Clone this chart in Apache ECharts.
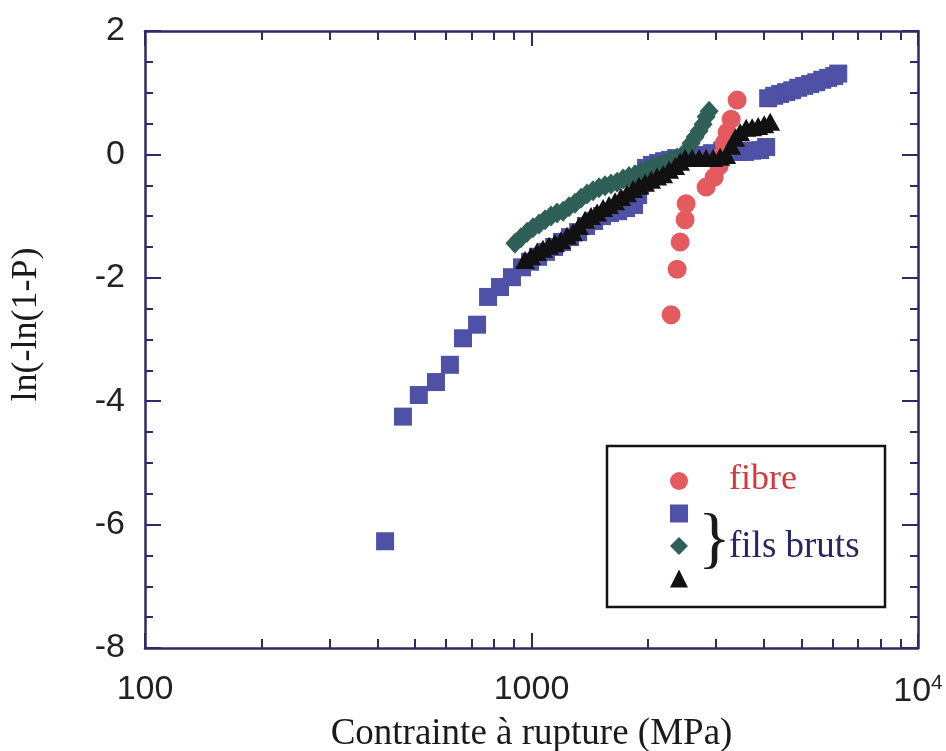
<!DOCTYPE html>
<html>
<head>
<meta charset="utf-8">
<script src="https://cdn.jsdelivr.net/npm/echarts@6/dist/echarts.min.js"></script>
<style>html,body{margin:0;padding:0;background:#fff}#c{width:946px;height:751px}</style>
</head>
<body>
<div id="c"></div>
<script>
// ---- data (x: Contrainte à rupture in MPa, y: ln(-ln(1-P))) ----
const fibreStress = [2297,2381,2424,2497,2512,2830,2969,3058,3114,3151,3208,3285,3405];
const fibreY      = [-2.60,-1.86,-1.42,-1.06,-0.80,-0.53,-0.37,-0.19,-0.01,0.18,0.36,0.57,0.88];

const brutsAStress = [418,465,511,566,615,665,723,772,829,890,945,991,1040,1090,1144,1199,1258,1320,1384,1452,1522,1597,1675,1757,1842,1887,1910,1932,1979,2051,2126,2203,2283,2367,2573,2731,2933,3114,3425,3571,3723,3905,4047,4096,4245,4400,4560,4726,4898,5077,5261,5453,5652,5858,6071,6218];
const brutsAY      = [-6.27,-4.25,-3.90,-3.69,-3.41,-2.98,-2.76,-2.31,-2.15,-1.99,-1.83,-1.74,-1.66,-1.58,-1.50,-1.42,-1.34,-1.26,-1.16,-1.08,-1.00,-0.95,-0.92,-0.87,-0.82,-0.66,-0.50,-0.33,-0.22,-0.17,-0.14,-0.11,-0.09,-0.06,-0.03,-0.01,0.02,0.06,0.04,0.04,0.06,0.07,0.12,0.91,0.95,0.98,1.01,1.04,1.08,1.11,1.14,1.17,1.21,1.24,1.27,1.31];

const brutsBStress = [906,939,974,1009,1046,1084,1123,1164,1207,1251,1296,1343,1392,1443,1495,1550,1606,1665,1726,1788,1854,1921,1991,2064,2139,2216,2297,2381,2467,2527,2588,2651,2715,2780,2830,2881];
const brutsBY      = [-1.44,-1.35,-1.26,-1.19,-1.13,-1.06,-1.00,-0.95,-0.92,-0.85,-0.79,-0.71,-0.64,-0.59,-0.54,-0.51,-0.48,-0.45,-0.40,-0.36,-0.33,-0.28,-0.24,-0.20,-0.17,-0.14,-0.09,-0.06,-0.01,0.07,0.18,0.28,0.38,0.49,0.61,0.70];

const brutsCStress = [962,997,1033,1071,1110,1150,1192,1236,1281,1327,1376,1426,1478,1532,1587,1645,1705,1767,1832,1898,1967,2039,2113,2190,2270,2353,2424,2497,2604,2715,2830,2951,3077,3189,3285,3365,3466,3593,3723,3859,4000,4145];
const brutsCY      = [-1.71,-1.65,-1.58,-1.53,-1.48,-1.44,-1.39,-1.32,-1.26,-1.16,-1.06,-1.00,-0.94,-0.87,-0.82,-0.76,-0.69,-0.63,-0.56,-0.51,-0.46,-0.41,-0.36,-0.32,-0.25,-0.19,-0.12,-0.06,-0.06,-0.06,-0.06,-0.06,-0.04,-0.01,0.14,0.27,0.36,0.43,0.44,0.46,0.49,0.53];

// ---- axes ----
const xMin = 100, xMax = 10000;
const xMajorTicks = [100, 1000, 10000];
const xMinorTicks = [200,300,400,500,600,700,800,900,2000,3000,4000,5000,6000,7000,8000,9000];
const yMin = -8, yMax = 2, yInterval = 2;

const xTitle = 'Contrainte à rupture (MPa)';
const yTitle = 'ln(-ln(1-P)';
const legendFibre = 'fibre';
const legendBruts = 'fils bruts';

const zip = (xs, ys) => xs.map((x, i) => [x, ys[i]]);

const frameColor = '#2e2a66';
const lineStyle = { color: frameColor, width: 2.5 };
const serif = "'Liberation Serif', 'DejaVu Serif', serif";
const sans = "'Liberation Sans', Arial, sans-serif";

function logAxis(position, ticks, len, showLine, showLabel) {
  return {
    type: 'log', logBase: 10, min: xMin, max: xMax, position: position,
    axisLine: { show: showLine, onZero: false, lineStyle: lineStyle },
    axisTick: { show: true, inside: true, length: len, customValues: ticks, lineStyle: { color: frameColor, width: 2 } },
    minorTick: { show: false },
    axisLabel: showLabel ? {
      show: true, customValues: xMajorTicks, margin: 25, fontSize: 34, fontFamily: sans, color: '#222',
      formatter: v => (v >= 10000 ? '10{sup|4}' : String(Math.round(v))),
      rich: { sup: { fontSize: 21, fontFamily: sans, color: '#222', verticalAlign: 'top', padding: [0, 0, 16, 0] } }
    } : { show: false },
    splitLine: { show: false }
  };
}

const chart = echarts.init(document.getElementById('c'));
const xAxes = [
  logAxis('bottom', xMajorTicks, 15, true, true),
  logAxis('bottom', xMinorTicks, 9, false, false),
  logAxis('top', xMajorTicks, 15, true, false),
  logAxis('top', xMinorTicks, 9, false, false)
];
xAxes[0].name = xTitle;
xAxes[0].nameLocation = 'middle';
xAxes[0].nameGap = 68;
xAxes[0].nameTextStyle = { fontFamily: serif, fontSize: 37, color: '#1a1a1a' };

function valAxis(position, showLabel) {
  return {
    type: 'value', min: yMin, max: yMax, interval: yInterval, position: position,
    axisLine: { show: true, onZero: false, lineStyle: lineStyle },
    axisTick: { show: true, inside: true, length: 16, lineStyle: { color: frameColor, width: 2 } },
    minorTick: { show: true, splitNumber: 4, length: 8, lineStyle: { color: frameColor, width: 2 } },
    axisLabel: showLabel ? { show: true, margin: 20, fontSize: 34, fontFamily: sans, color: '#222' } : { show: false },
    splitLine: { show: false }
  };
}
const yAxes = [valAxis('left', true), valAxis('right', false)];
yAxes[0].name = yTitle;
yAxes[0].nameLocation = 'middle';
yAxes[0].nameRotate = 90;
yAxes[0].nameGap = 100;
yAxes[0].nameTextStyle = { fontFamily: serif, fontSize: 36, color: '#1a1a1a', padding: [0, 0, 0, 30] };

const seriesDefs = [
  { name: 'fils bruts (1)', data: zip(brutsAStress, brutsAY), symbol: 'rect', size: 18, color: '#4f51a6', z: 2 },
  { name: 'fils bruts (2)', data: zip(brutsBStress, brutsBY), symbol: 'diamond', size: [19, 21], color: '#2f6057', z: 3 },
  { name: 'fibre', data: zip(fibreStress, fibreY), symbol: 'circle', size: 19, color: '#e55a5f', z: 4 },
  { name: 'fils bruts (3)', data: zip(brutsCStress, brutsCY), symbol: 'triangle', size: [20, 18], color: '#111111', z: 5 }
];

chart.setOption({
  animation: false,
  backgroundColor: '#fff',
  grid: { left: 145, right: 28, top: 31, bottom: 103, containLabel: false, outerBoundsMode: 'none' },
  xAxis: xAxes,
  yAxis: yAxes,
  legend: {
    orient: 'vertical', left: 665, top: 467, itemWidth: 18, itemHeight: 18, itemGap: 14.5,
    data: ['fibre', 'fils bruts (1)', 'fils bruts (2)', 'fils bruts (3)'],
    formatter: () => '', textStyle: { fontSize: 10 }, selectedMode: false, z: 20
  },
  graphic: [
    { type: 'rect', z: 10, shape: { x: 607, y: 446, width: 278, height: 161 },
      style: { fill: '#fff', stroke: '#141414', lineWidth: 2.5 } },
    { type: 'text', z: 21, left: 729, top: 462,
      style: { text: legendFibre, fill: '#d2393f', font: "36px 'Liberation Serif', serif" } },
    { type: 'text', z: 21, left: 698, top: 508,
      style: { text: '}', fill: '#1a1a1a', font: "68px 'Liberation Serif', serif" } },
    { type: 'text', z: 21, left: 729, top: 529,
      style: { text: legendBruts, fill: '#262663', font: "37px 'Liberation Serif', serif" } }
  ],
  series: seriesDefs.map(s => ({
    type: 'scatter', name: s.name, data: s.data, symbol: s.symbol, symbolSize: s.size,
    itemStyle: { color: s.color, opacity: 1 }, z: s.z, xAxisIndex: 0, yAxisIndex: 0
  }))
});
</script>
</body>
</html>
